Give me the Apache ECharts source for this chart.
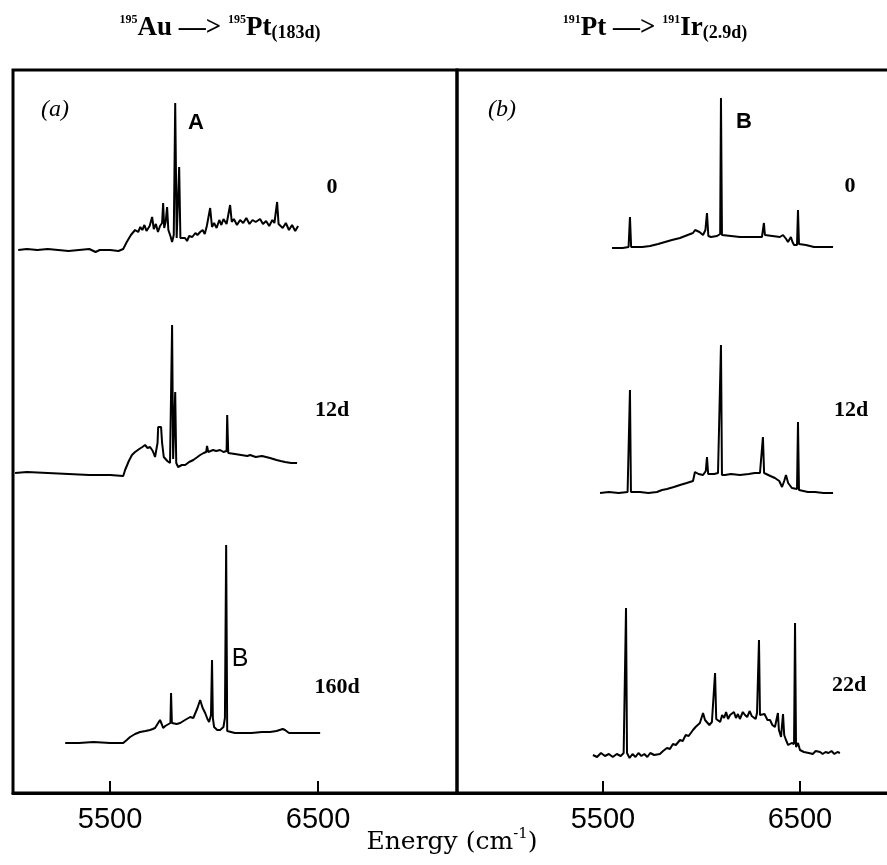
<!DOCTYPE html>
<html>
<head>
<meta charset="utf-8">
<title>Au / Pt spectra</title>
<script src="https://cdn.jsdelivr.net/npm/echarts@6/dist/echarts.min.js"></script>
<style>
  html, body { margin: 0; padding: 0; background: #fff; }
  #main { width: 887px; height: 865px; }
</style>
</head>
<body>
<div id="main"></div>
<script>
// energy (cm-1), intensity above the trace's own baseline (arb. units)
const au0d = [
  [5058, 0], [5100, 1], [5150, 0], [5200, 1], [5250, 0], [5300, -1], [5350, 0], [5400, 1],
  [5430, -2], [5450, 0], [5500, 0], [5540, -1], [5563, 1], [5580, 8], [5600, 15], [5620, 20],
  [5635, 18], [5645, 23], [5655, 20], [5665, 25], [5675, 19], [5690, 24], [5702, 33], [5710, 21],
  [5720, 26], [5730, 18], [5740, 24], [5750, 27], [5755, 47], [5760, 22], [5767, 28], [5774, 43],
  [5780, 20], [5790, 14], [5798, 8], [5806, 15], [5813, 147], [5820, 12], [5826, 14], [5832, 83],
  [5838, 12], [5846, 10], [5860, 12], [5870, 9], [5880, 14], [5895, 13], [5910, 17], [5920, 15],
  [5933, 18], [5945, 20], [5955, 16], [5965, 24], [5981, 42], [5990, 23], [6000, 27], [6012, 22],
  [6025, 30], [6035, 25], [6045, 31], [6060, 26], [6077, 45], [6085, 28], [6095, 31], [6110, 25],
  [6125, 30], [6140, 27], [6155, 32], [6170, 26], [6185, 30], [6200, 28], [6221, 31], [6235, 26],
  [6250, 29], [6265, 24], [6280, 30], [6290, 27], [6303, 48], [6310, 26], [6317, 28], [6330, 22],
  [6345, 27], [6360, 20], [6375, 25], [6390, 19], [6404, 24]
];
const au12d = [
  [5043, 0], [5100, 1], [5200, 0], [5300, -1], [5400, -2], [5500, -2], [5563, -3], [5572, 3],
  [5590, 12], [5605, 18], [5620, 21], [5640, 24], [5655, 26], [5668, 28], [5680, 25], [5692, 26],
  [5705, 22], [5716, 16], [5728, 30], [5731, 46], [5745, 46], [5750, 30], [5758, 16], [5764, 16],
  [5775, 12], [5788, 10], [5794, 12], [5798, 148], [5803, 14], [5808, 16], [5813, 81], [5818, 10],
  [5827, 6], [5845, 8], [5861, 8], [5880, 11], [5900, 13], [5920, 16], [5933, 18], [5950, 20],
  [5962, 21], [5966, 27], [5972, 21], [5995, 23], [6010, 22], [6029, 23], [6045, 21], [6060, 22],
  [6063, 58], [6068, 20], [6077, 18], [6100, 19], [6130, 18], [6160, 17], [6173, 18], [6200, 16],
  [6230, 17], [6269, 15], [6300, 13], [6320, 12], [6341, 11], [6370, 10], [6399, 10]
];
const au160d = [
  [5284, 0], [5350, 0], [5420, 1], [5500, 0], [5563, 0], [5580, 3], [5596, 6], [5620, 9],
  [5644, 11], [5670, 12], [5692, 13], [5705, 14], [5716, 15], [5728, 19], [5740, 23], [5748, 19],
  [5755, 15], [5765, 17], [5774, 18], [5790, 20], [5793, 50], [5797, 20], [5803, 18], [5820, 19],
  [5837, 20], [5860, 23], [5885, 26], [5900, 25], [5909, 25], [5920, 35], [5933, 43], [5945, 35],
  [5957, 30], [5968, 24], [5976, 21], [5985, 28], [5990, 83], [5994, 25], [6000, 16], [6015, 13],
  [6029, 13], [6045, 16], [6052, 25], [6058, 198], [6063, 12], [6072, 10], [6100, 10], [6125, 10],
  [6180, 10], [6230, 11], [6269, 11], [6300, 12], [6330, 14], [6341, 13], [6360, 10], [6389, 10],
  [6450, 10], [6510, 10]
];
const pt0d = [
  [5546, 0], [5600, 0], [5630, 1], [5637, 31], [5643, 1], [5700, 1], [5739, 2], [5780, 4],
  [5815, 6], [5850, 8], [5891, 10], [5930, 13], [5957, 15], [5968, 18], [5977, 20], [5990, 16],
  [6008, 13], [6020, 18], [6028, 35], [6035, 12], [6048, 11], [6079, 12], [6095, 14], [6099, 150],
  [6104, 13], [6114, 13], [6150, 12], [6195, 11], [6250, 11], [6307, 11], [6313, 12], [6317, 25],
  [6322, 13], [6332, 14], [6360, 12], [6398, 11], [6414, 13], [6430, 9], [6439, 6], [6454, 11],
  [6462, 6], [6470, 3], [6485, 3], [6490, 38], [6495, 4], [6505, 3], [6530, 3], [6571, 1],
  [6620, 1], [6668, 1]
];
const pt12d = [
  [5485, 0], [5530, 1], [5580, 0], [5625, 1], [5632, 2], [5637, 103], [5642, 1], [5688, 1],
  [5730, 0], [5774, 1], [5800, 3], [5825, 4], [5860, 6], [5891, 8], [5925, 10], [5957, 12],
  [5967, 21], [5985, 19], [6008, 18], [6022, 22], [6028, 36], [6034, 19], [6043, 18], [6065, 19],
  [6084, 20], [6094, 19], [6099, 148], [6104, 18], [6119, 18], [6150, 19], [6195, 18], [6240, 19],
  [6270, 20], [6297, 20], [6307, 21], [6312, 56], [6318, 20], [6327, 20], [6350, 17], [6373, 15],
  [6395, 12], [6409, 6], [6420, 12], [6429, 18], [6440, 10], [6459, 5], [6485, 4], [6490, 71],
  [6495, 3], [6505, 3], [6540, 1], [6576, 1], [6620, 0], [6668, 0]
];
const pt22d = [
  [5449, 0], [5470, -2], [5490, 2], [5510, -1], [5530, 1], [5550, -2], [5570, 1], [5590, -1],
  [5605, 2], [5612, 0], [5617, 147], [5622, 2], [5635, -3], [5650, 1], [5665, -2], [5680, 2],
  [5695, -1], [5710, 1], [5725, -2], [5740, 2], [5760, 0], [5789, 1], [5805, 4], [5825, 7],
  [5840, 6], [5855, 11], [5870, 10], [5891, 15], [5905, 14], [5920, 20], [5935, 19], [5957, 25],
  [5970, 28], [5980, 26], [5992, 32], [6000, 30], [6008, 42], [6018, 35], [6028, 37], [6040, 30],
  [6053, 33], [6062, 35], [6069, 82], [6075, 36], [6084, 38], [6095, 33], [6105, 40], [6115, 37],
  [6125, 43], [6135, 36], [6145, 40], [6155, 38], [6165, 43], [6175, 37], [6185, 41], [6195, 36],
  [6210, 43], [6221, 40], [6232, 38], [6245, 44], [6255, 39], [6265, 41], [6275, 36], [6282, 42],
  [6287, 43], [6292, 115], [6297, 40], [6307, 38], [6320, 41], [6335, 35], [6348, 35], [6360, 30],
  [6373, 28], [6380, 30], [6388, 42], [6393, 25], [6398, 22], [6404, 18], [6409, 30], [6414, 41],
  [6420, 20], [6429, 15], [6440, 10], [6449, 8], [6458, 12], [6464, 10], [6470, 11], [6475, 132],
  [6480, 8], [6490, 12], [6500, 5], [6510, 6], [6520, 3], [6530, 5], [6545, 2], [6551, 3],
  [6565, 1], [6580, 4], [6590, 2], [6602, 3], [6615, 1], [6630, 3], [6645, 2], [6660, 4],
  [6675, 1], [6690, 3], [6703, 2]
];

// vertical stacking offsets of each trace
const auOffsets = [543, 320, 50];
const ptOffsets = [545, 300, 38];
const auTimes = ['0', '12d', '160d'];
const ptTimes = ['0', '12d', '22d'];
const tickValues = [5500, 6500];

const chart = echarts.init(document.getElementById('main'));

function trace (data, off, idx) {
  return {
    type: 'line',
    xAxisIndex: idx,
    yAxisIndex: idx,
    showSymbol: false,
    silent: true,
    lineStyle: { color: '#000', width: 2 },
    data: data.map(p => [p[0], p[1] + off])
  };
}

const serif = '"Liberation Serif", "DejaVu Serif", serif';
const sans = '"Liberation Sans", Arial, sans-serif';

function xAxisFor (idx, min, max) {
  return {
    type: 'value',
    gridIndex: idx,
    min: min,
    max: max,
    splitLine: { show: false },
    axisLine: { show: true, onZero: false, lineStyle: { color: '#000', width: 3 } },
    axisTick: { show: true, inside: true, length: 12, customValues: tickValues, lineStyle: { color: '#000', width: 2 } },
    axisLabel: {
      show: true, customValues: tickValues, color: '#000', fontFamily: sans, fontSize: 29, margin: 12,
      formatter: v => String(v)
    }
  };
}

function txt (x, y, text, font, align) {
  return {
    type: 'text', x: x, y: y,
    style: { text: text, font: font, fill: '#000', align: align || 'center', verticalAlign: 'middle' }
  };
}

const titleRich = {
  s: { fontFamily: serif, fontWeight: 'bold', fontSize: 12, verticalAlign: 'top', lineHeight: 28 },
  b: { fontFamily: serif, fontWeight: 'bold', fontSize: 27, lineHeight: 28 },
  p: { fontFamily: serif, fontWeight: 'bold', fontSize: 18, lineHeight: 28, verticalAlign: 'bottom' }
};

const option = {
  animation: false,
  backgroundColor: '#fff',
  grid: [
    { left: 13, top: 70, width: 444, bottom: 72, outerBoundsMode: 'none', show: true, borderColor: '#000', borderWidth: 3 },
    { left: 457, top: 70, width: 445, bottom: 72, outerBoundsMode: 'none', show: true, borderColor: '#000', borderWidth: 3 }
  ],
  xAxis: [xAxisFor(0, 5033, 7168), xAxisFor(1, 4759, 7018)],
  yAxis: [
    { type: 'value', gridIndex: 0, min: 0, max: 723, show: false },
    { type: 'value', gridIndex: 1, min: 0, max: 723, show: false }
  ],
  series: [
    trace(au0d, auOffsets[0], 0),
    trace(au12d, auOffsets[1], 0),
    trace(au160d, auOffsets[2], 0),
    trace(pt0d, ptOffsets[0], 1),
    trace(pt12d, ptOffsets[1], 1),
    trace(pt22d, ptOffsets[2], 1)
  ],
  graphic: [
    {
      type: 'text', x: 220, y: 28,
      style: { text: '{s|195}{b|Au —> }{s|195}{b|Pt}{p|(183d)}', rich: titleRich, fill: '#000', align: 'center', verticalAlign: 'middle' }
    },
    {
      type: 'text', x: 655, y: 28,
      style: { text: '{s|191}{b|Pt —> }{s|191}{b|Ir}{p|(2.9d)}', rich: titleRich, fill: '#000', align: 'center', verticalAlign: 'middle' }
    },
    txt(55, 110, '(a)', 'italic 24px ' + serif),
    txt(502, 110, '(b)', 'italic 24px ' + serif),
    txt(196, 123, 'A', 'bold 22px ' + sans),
    txt(240, 659, 'B', '25px ' + sans),
    txt(744, 122, 'B', 'bold 22px ' + sans),
    txt(332, 187, auTimes[0], 'bold 22px ' + serif),
    txt(332, 410, auTimes[1], 'bold 22px ' + serif),
    txt(337, 687, auTimes[2], 'bold 22px ' + serif),
    txt(850, 186, ptTimes[0], 'bold 22px ' + serif),
    txt(851, 410, ptTimes[1], 'bold 22px ' + serif),
    txt(849, 685, ptTimes[2], 'bold 22px ' + serif),
    {
      type: 'text', x: 452, y: 842,
      style: {
        text: '{n|Energy (cm}{u|-1}{n|)}',
        rich: {
          n: { fontFamily: '"DejaVu Serif", serif', fontSize: 25, lineHeight: 30 },
          u: { fontFamily: '"DejaVu Serif", serif', fontSize: 15, lineHeight: 30, verticalAlign: 'top' }
        },
        fill: '#000', align: 'center', verticalAlign: 'middle'
      }
    }
  ]
};

chart.setOption(option);
</script>
</body>
</html>
